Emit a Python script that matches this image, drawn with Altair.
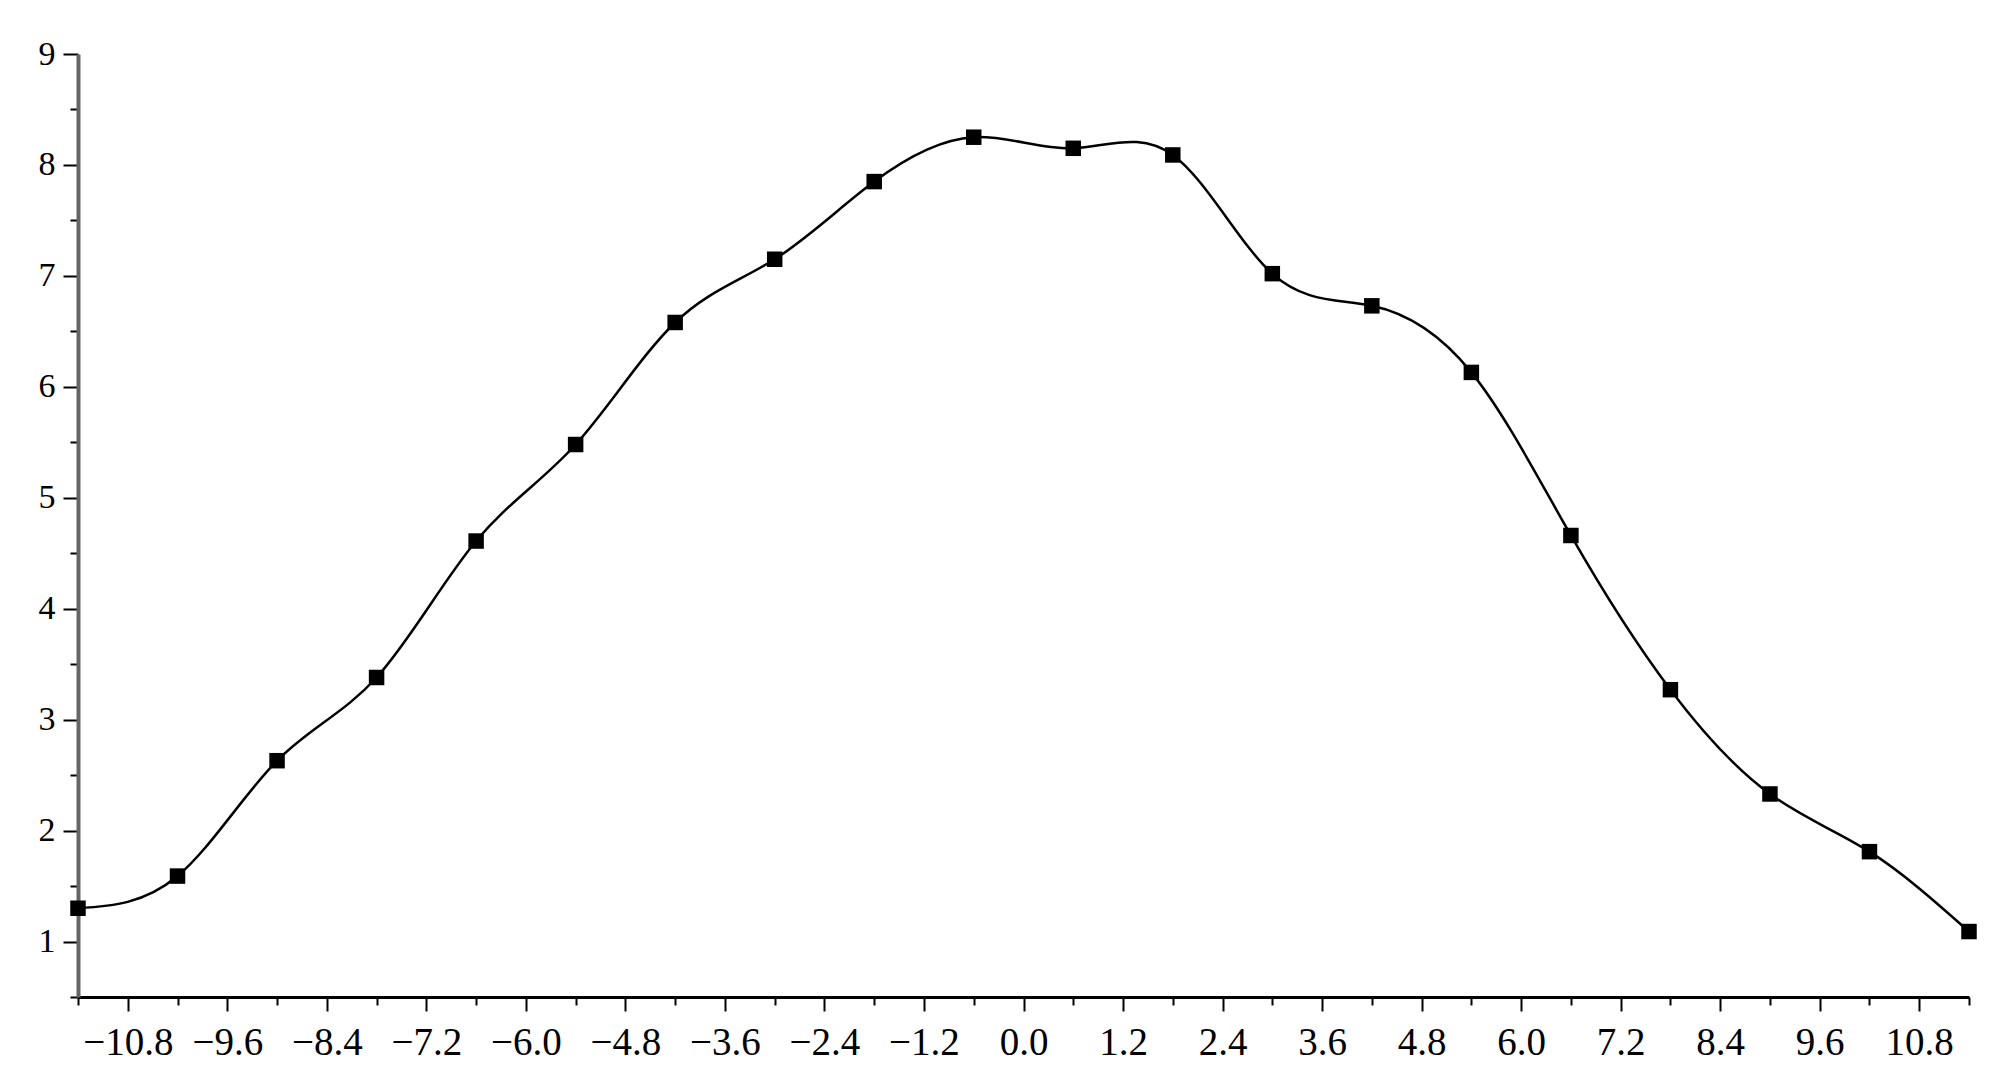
import altair as alt
import pandas as pd

x_vals = [-11.4, -10.2, -9.0, -7.8, -6.6, -5.4, -4.2, -3.0, -1.8, -0.6,
          0.6, 1.8, 3.0, 4.2, 5.4, 6.6, 7.8, 9.0, 10.2, 11.4]
y_vals = [1.30, 1.59, 2.63, 3.38, 4.61, 5.48, 6.58, 7.15, 7.85, 8.25,
          8.15, 8.09, 7.02, 6.73, 6.13, 4.66, 3.27, 2.33, 1.81, 1.09]

x_ticks = [round(i * 0.6, 1) for i in range(-19, 20)]
y_ticks = [round(0.5 + i * 0.5, 1) for i in range(0, 18)]

df = pd.DataFrame({"x": x_vals, "y": y_vals})

FONT = "Liberation Serif"

x_axis = alt.Axis(
    values=x_ticks,
    labelExpr="round(datum.value/0.6) % 2 === 0 ? format(datum.value, '.1f') : ''",
    tickSize={"condition": {"test": "round(datum.value/0.6) % 2 === 0", "value": 14}, "value": 8},
    tickWidth=2,
    tickColor="black",
    domainColor="black",
    domainWidth=3,
    labelFont=FONT,
    labelFontSize=39,
    labelColor="black",
    labelPadding=12,
    labelFlush=False,
    labelOverlap=False,
    grid=False,
    title=None,
)

y_axis = alt.Axis(
    values=y_ticks,
    labelExpr="datum.value % 1 === 0 ? format(datum.value, 'd') : ''",
    tickSize={"condition": {"test": "datum.value % 1 === 0", "value": 15}, "value": 8},
    tickWidth=2,
    tickColor="black",
    domainColor="#666666",
    domainWidth=4,
    labelFont=FONT,
    labelFontSize=34,
    labelColor="black",
    labelPadding=8,
    labelFlush=False,
    labelOverlap=False,
    grid=False,
    title=None,
)

xs = alt.Scale(domain=[-11.4, 11.4], nice=False, zero=False)
ys = alt.Scale(domain=[0.5, 9], nice=False, zero=False)

line = alt.Chart(df).mark_line(
    interpolate="natural", color="black", strokeWidth=2.5
).encode(
    x=alt.X("x:Q", scale=xs, axis=x_axis),
    y=alt.Y("y:Q", scale=ys, axis=y_axis),
)

pts = alt.Chart(df).mark_point(
    shape="square", filled=True, color="black", size=240, opacity=1
).encode(
    x=alt.X("x:Q", scale=xs),
    y=alt.Y("y:Q", scale=ys),
)

chart = alt.layer(line, pts).properties(
    width=1891,
    height=943,
    autosize=alt.AutoSizeParams(type="none"),
    padding={"left": 70, "top": 46, "right": 30, "bottom": 70},
).configure(background="white").configure_view(stroke=None, strokeWidth=0)

chart.save("out.html", embed_options={"renderer": "svg", "actions": False})
